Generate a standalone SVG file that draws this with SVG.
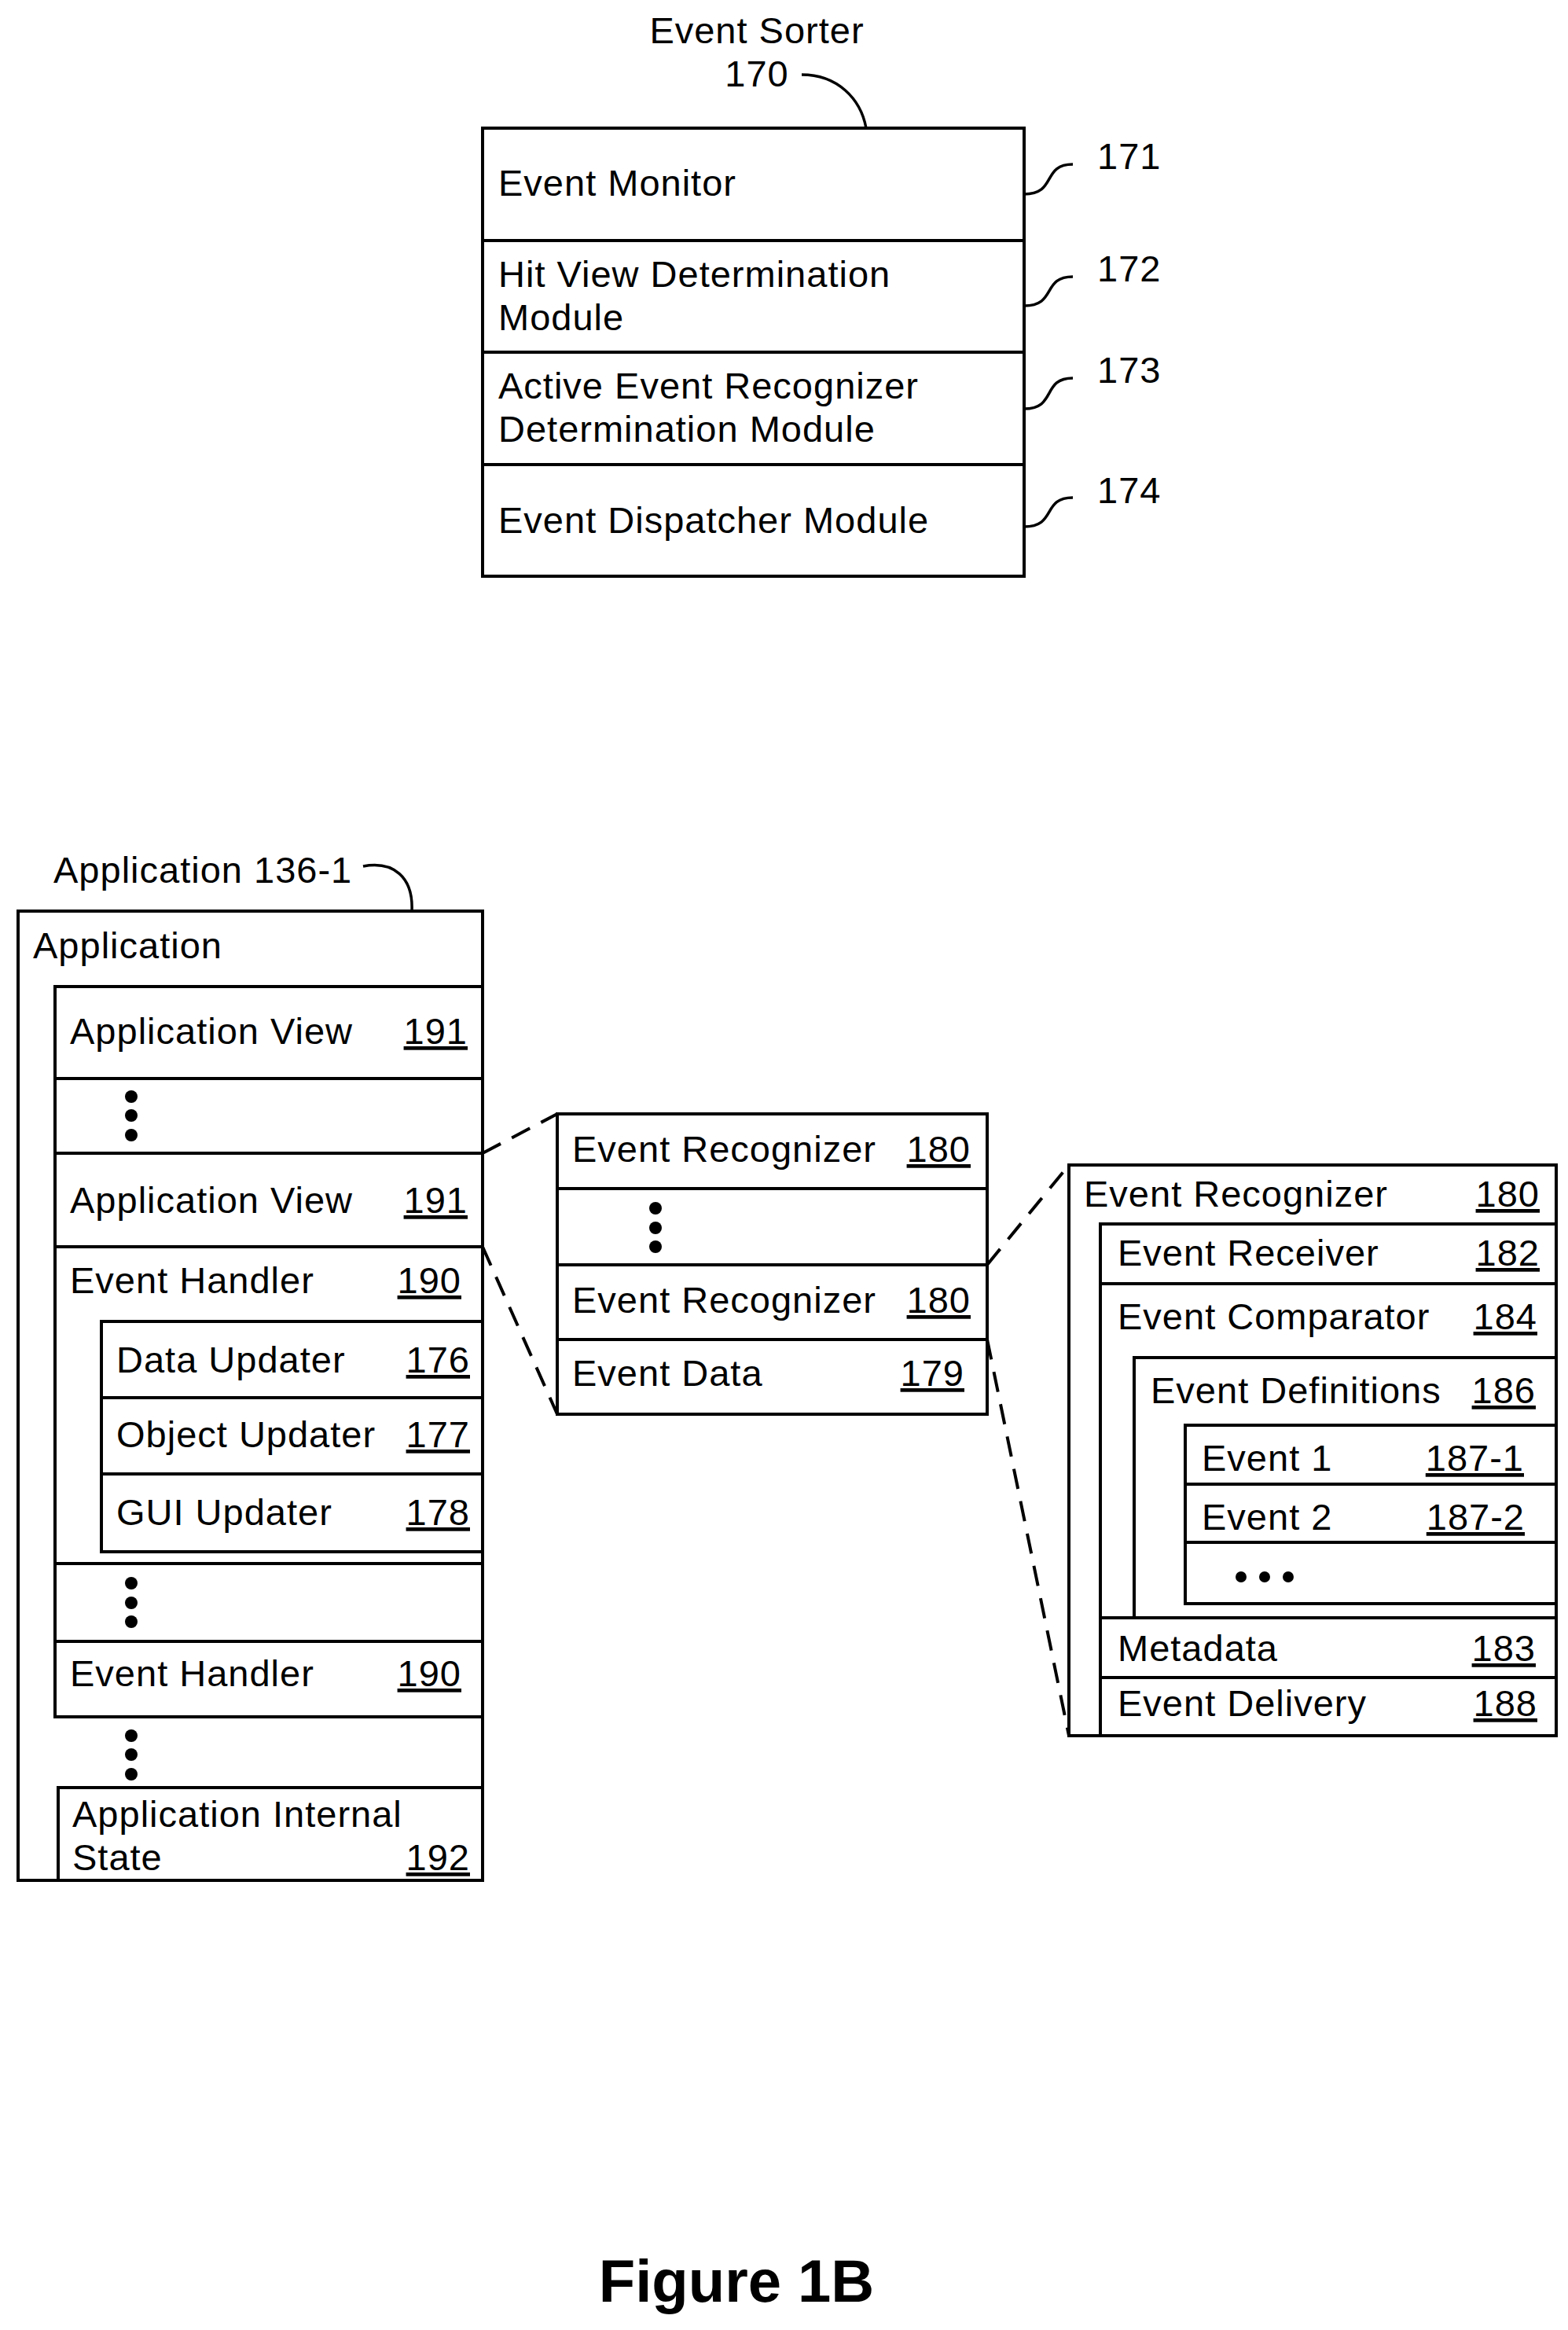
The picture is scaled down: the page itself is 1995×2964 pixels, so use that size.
<svg xmlns="http://www.w3.org/2000/svg" width="1995" height="2964" viewBox="0 0 1995 2964">
<style>
text{font-family:"Liberation Sans",Arial,sans-serif;font-size:47px;fill:#000;letter-spacing:1px}
.n{text-anchor:end;text-decoration:underline}
.b{fill:#fff;stroke:#000;stroke-width:4}
.l{fill:none;stroke:#000;stroke-width:4}
.c{fill:none;stroke:#000;stroke-width:3.5}
.d{fill:none;stroke:#000;stroke-width:4;stroke-dasharray:26,16}
</style>
<g id="sorter">
<text x="963" y="55" text-anchor="middle">Event Sorter</text>
<text x="963" y="110" text-anchor="middle">170</text>
<path class="c" d="M1020,95 C1065,95 1095,125 1102,163"/>
<rect class="b" x="614" y="163" width="689" height="570"/>
<line class="l" x1="614" y1="306" x2="1303" y2="306"/>
<line class="l" x1="614" y1="448" x2="1303" y2="448"/>
<line class="l" x1="614" y1="591" x2="1303" y2="591"/>
<text x="634" y="249">Event Monitor</text>
<text x="634" y="365">Hit View Determination</text>
<text x="634" y="420">Module</text>
<text x="634" y="507">Active Event Recognizer</text>
<text x="634" y="562">Determination Module</text>
<text x="634" y="678">Event Dispatcher Module</text>
<path class="c" d="M1303,247 C1345,247 1325,209 1365,209"/>
<path class="c" d="M1303,389 C1345,389 1325,352 1365,352"/>
<path class="c" d="M1303,520 C1345,520 1325,481 1365,481"/>
<path class="c" d="M1303,670 C1345,670 1325,633 1365,633"/>
<text x="1396" y="215">171</text>
<text x="1396" y="358">172</text>
<text x="1396" y="487">173</text>
<text x="1396" y="640">174</text>
</g>
<g id="application">
<text x="68" y="1123">Application 136-1</text>
<path class="c" d="M462,1102 C500,1095 526,1115 524,1159"/>
<rect class="b" x="23" y="1159" width="591" height="1233"/>
<text x="42" y="1219">Application</text>
<rect class="b" x="70" y="1255" width="544" height="929"/>
<line class="l" x1="70" y1="1372" x2="614" y2="1372"/>
<line class="l" x1="70" y1="1467" x2="614" y2="1467"/>
<line class="l" x1="70" y1="1586" x2="614" y2="1586"/>
<line class="l" x1="70" y1="1989" x2="614" y2="1989"/>
<line class="l" x1="70" y1="2088" x2="614" y2="2088"/>
<text x="89" y="1328">Application View</text><text class="n" x="595" y="1328">191</text>
<circle cx="167" cy="1395" r="8"/><circle cx="167" cy="1419" r="8"/><circle cx="167" cy="1444" r="8"/>
<text x="89" y="1543">Application View</text><text class="n" x="595" y="1543">191</text>
<text x="89" y="1645">Event Handler</text><text class="n" x="587" y="1645">190</text>
<rect class="b" x="129" y="1681" width="485" height="293"/>
<line class="l" x1="129" y1="1778" x2="614" y2="1778"/>
<line class="l" x1="129" y1="1875" x2="614" y2="1875"/>
<text x="148" y="1746">Data Updater</text><text class="n" x="598" y="1746">176</text>
<text x="148" y="1841">Object Updater</text><text class="n" x="598" y="1841">177</text>
<text x="148" y="1940">GUI Updater</text><text class="n" x="598" y="1940">178</text>
<circle cx="167" cy="2014" r="8"/><circle cx="167" cy="2039" r="8"/><circle cx="167" cy="2063" r="8"/>
<text x="89" y="2145">Event Handler</text><text class="n" x="587" y="2145">190</text>
<circle cx="167" cy="2208" r="8"/><circle cx="167" cy="2232" r="8"/><circle cx="167" cy="2257" r="8"/>
<rect class="b" x="74" y="2274" width="540" height="118"/>
<text x="92" y="2324">Application Internal</text>
<text x="92" y="2379">State</text><text class="n" x="598" y="2379">192</text>
</g>
<g id="recognizers">
<rect class="b" x="709" y="1417" width="547" height="382"/>
<line class="l" x1="709" y1="1512" x2="1256" y2="1512"/>
<line class="l" x1="709" y1="1609" x2="1256" y2="1609"/>
<line class="l" x1="709" y1="1704" x2="1256" y2="1704"/>
<text x="728" y="1478">Event Recognizer</text><text class="n" x="1235" y="1478">180</text>
<circle cx="834" cy="1537" r="8"/><circle cx="834" cy="1562" r="8"/><circle cx="834" cy="1586" r="8"/>
<text x="728" y="1670">Event Recognizer</text><text class="n" x="1235" y="1670">180</text>
<text x="728" y="1763">Event Data</text><text class="n" x="1227" y="1763">179</text>
</g>
<g id="recognizer-detail">
<rect class="b" x="1360" y="1482" width="620" height="726"/>
<text x="1379" y="1535">Event Recognizer</text><text class="n" x="1959" y="1535">180</text>
<rect class="b" x="1400" y="1557" width="580" height="651"/>
<line class="l" x1="1400" y1="1633" x2="1980" y2="1633"/>
<line class="l" x1="1400" y1="2058" x2="1980" y2="2058"/>
<line class="l" x1="1400" y1="2134" x2="1980" y2="2134"/>
<text x="1422" y="1610">Event Receiver</text><text class="n" x="1959" y="1610">182</text>
<text x="1422" y="1691">Event Comparator</text><text class="n" x="1956" y="1691">184</text>
<path class="l" d="M1443,2058 V1727 H1980"/>
<text x="1464" y="1785">Event Definitions</text><text class="n" x="1954" y="1785">186</text>
<rect class="b" x="1508" y="1813" width="472" height="227"/>
<line class="l" x1="1508" y1="1888" x2="1980" y2="1888"/>
<line class="l" x1="1508" y1="1962" x2="1980" y2="1962"/>
<text x="1529" y="1871">Event 1</text><text class="n" x="1939" y="1871">187-1</text>
<text x="1529" y="1946">Event 2</text><text class="n" x="1940" y="1946">187-2</text>
<circle cx="1579" cy="2006" r="7"/><circle cx="1609" cy="2006" r="7"/><circle cx="1639" cy="2006" r="7"/>
<text x="1422" y="2113">Metadata</text><text class="n" x="1954" y="2113">183</text>
<text x="1422" y="2183">Event Delivery</text><text class="n" x="1956" y="2183">188</text>
</g>
<g id="connectors">
<line class="d" x1="614" y1="1467" x2="709" y2="1417"/>
<line class="d" x1="614" y1="1586" x2="709" y2="1799"/>
<line class="d" x1="1256" y1="1609" x2="1360" y2="1482"/>
<line class="d" x1="1256" y1="1704" x2="1360" y2="2208"/>
</g>
<text x="937" y="2928" text-anchor="middle" style="font-weight:bold;font-size:76px;letter-spacing:0">Figure 1B</text>
</svg>
